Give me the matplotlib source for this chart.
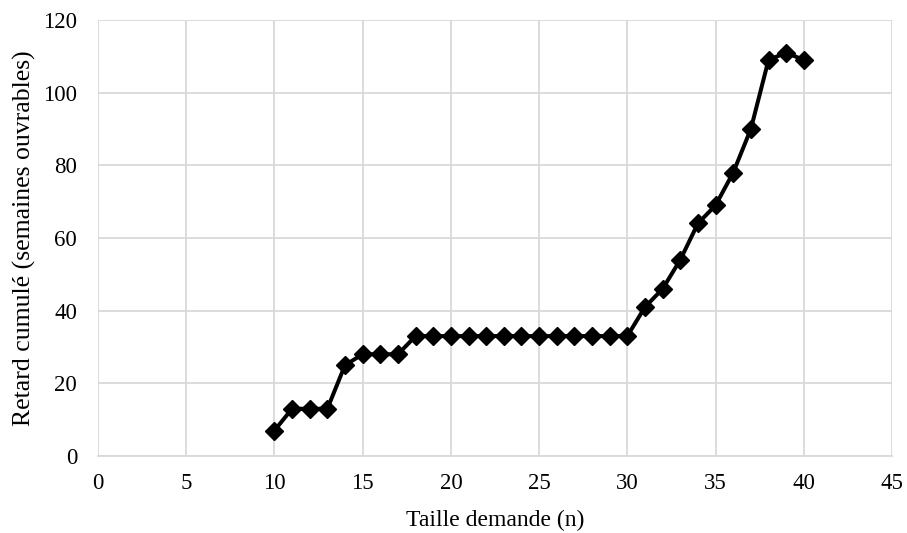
import matplotlib
matplotlib.use('Agg')
import matplotlib.pyplot as plt

# data
taille = list(range(10, 41))
retard = [7, 13, 13, 13, 25, 28, 28, 28,
          33, 33, 33, 33, 33, 33, 33, 33, 33, 33, 33, 33, 33,
          41, 46, 54, 64, 69, 78, 90, 109, 111, 109]

x_ticks = [0, 5, 10, 15, 20, 25, 30, 35, 40, 45]
y_ticks = [0, 20, 40, 60, 80, 100, 120]

plt.rcParams['font.family'] = ['Liberation Serif', 'DejaVu Serif']

fig = plt.figure(figsize=(9.07, 5.33), dpi=100)
ax = fig.add_axes([0.108, 0.1445, 0.8755, 0.818])

ax.plot(taille, retard, color='black', linewidth=2.9, marker='D',
        markersize=9, zorder=3)

ax.set_xlim(0, 45)
ax.set_ylim(0, 120)
ax.set_xticks(x_ticks)
ax.set_yticks(y_ticks)
ax.grid(True, color='#d9d9d9', linewidth=1.3)
ax.set_axisbelow(True)

for s in ['top', 'right', 'left']:
    ax.spines[s].set_visible(False)
ax.spines['bottom'].set_color('#d9d9d9')
ax.spines['bottom'].set_linewidth(1.3)
ax.tick_params(length=0, labelsize=16.5)
ax.tick_params(axis='x', pad=12)
ax.tick_params(axis='y', pad=15)

ax.set_xlabel('Taille demande (n)', fontsize=17, labelpad=12)
ax.set_ylabel('Retard cumulé (semaines ouvrables)', fontsize=18.5, labelpad=5)

fig.savefig('out.png', dpi=100)
